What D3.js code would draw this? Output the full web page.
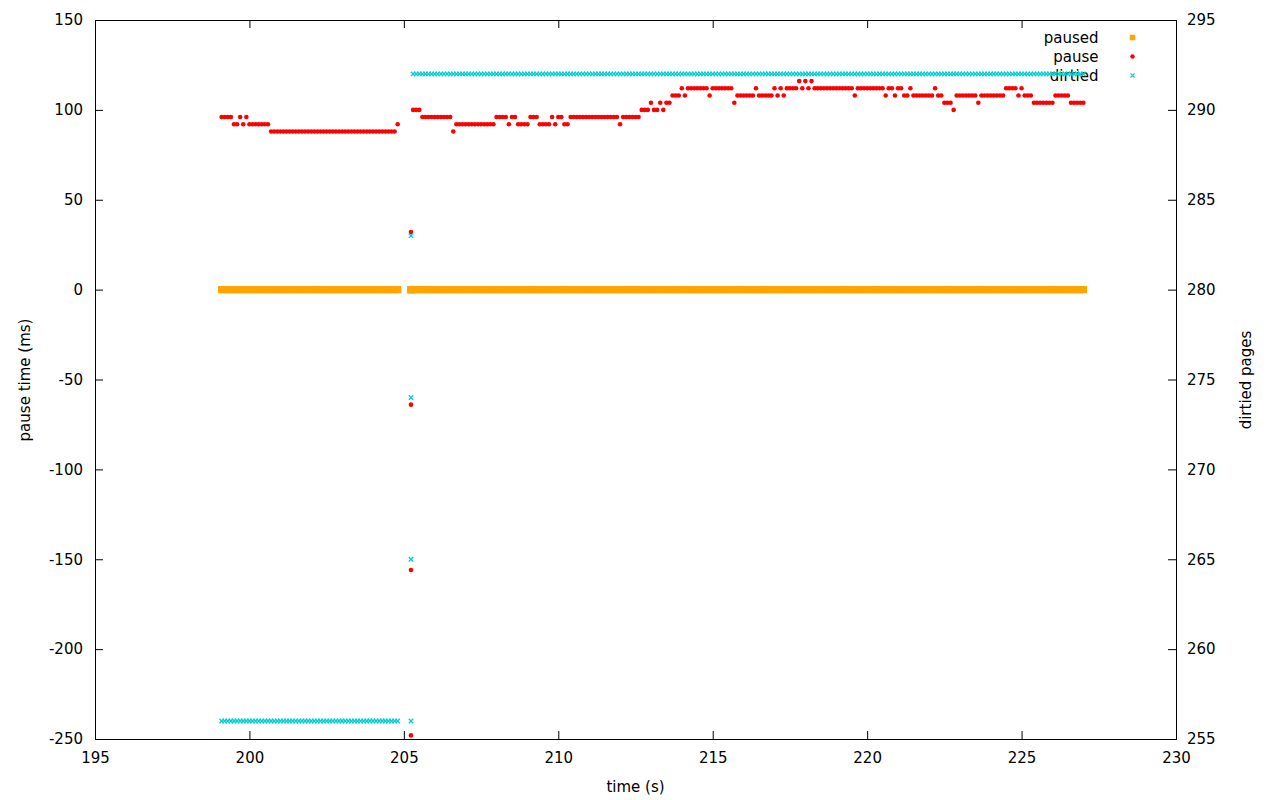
<!DOCTYPE html>
<html><head><meta charset="utf-8">
<script src="https://cdn.jsdelivr.net/npm/d3@7"></script>
<style>
html,body{margin:0;padding:0;background:#fff;}
svg{display:block;}
text{font-family:"DejaVu Sans",sans-serif;font-size:15px;fill:#000;}
</style>
</head><body>
<svg id="chart" width="1280" height="800"></svg>
<script>
// ---------------- data ----------------
const xTicks = [195,200,205,210,215,220,225,230];
const yLeftTicks = [-250,-200,-150,-100,-50,0,50,100,150];
const yRightTicks = [255,260,265,270,275,280,285,290,295];
const seriesNames = ["paused","pause","dirtied"];
const axisTitles = {x:"time (s)", yLeft:"pause time (ms)", yRight:"dirtied pages"};

// segment 1 (before the migration switch)
const times1 = [199.1,199.2,199.3,199.4,199.5,199.6,199.7,199.8,199.9,
200.0,200.1,200.2,200.3,200.4,200.5,200.6,200.7,200.8,200.9,
201.0,201.1,201.2,201.3,201.4,201.5,201.6,201.7,201.8,201.9,
202.0,202.1,202.2,202.3,202.4,202.5,202.6,202.7,202.8,202.9,
203.0,203.1,203.2,203.3,203.4,203.5,203.6,203.7,203.8,203.9,
204.0,204.1,204.2,204.3,204.4,204.5,204.6,204.7,204.8];
const pause1 = [96,96,96,96,92,92,96,92,96,92,
92,92,92,92,92,92,88,88,88,88,
88,88,88,88,88,88,88,88,88,88,
88,88,88,88,88,88,88,88,88,88,
88,88,88,88,88,88,88,88,88,88,
88,88,88,88,88,88,88,92];
const dirtied1 = [256,256,256,256,256,256,256,256,256,256,
256,256,256,256,256,256,256,256,256,256,
256,256,256,256,256,256,256,256,256,256,
256,256,256,256,256,256,256,256,256,256,
256,256,256,256,256,256,256,256,256,256,
256,256,256,256,256,256,256,256];
const paused1 = [0,0,0,0,0,0,0,0,0,0,
0,0,0,0,0,0,0,0,0,0,
0,0,0,0,0,0,0,0,0,0,
0,0,0,0,0,0,0,0,0,0,
0,0,0,0,0,0,0,0,0,0,
0,0,0,0,0,0,0,0];

// transition samples
const timesT = [205.23,205.23,205.23,205.23];
const pauseT = [32,-64,-156,-248];
const dirtiedT = [283,274,265,256];
const pausedT = [0,0,0,0];

// segment 2 (after the switch)
const times2 = [205.3,205.4,205.5,205.6,205.7,205.8,205.9,
206.0,206.1,206.2,206.3,206.4,206.5,206.6,206.7,206.8,206.9,
207.0,207.1,207.2,207.3,207.4,207.5,207.6,207.7,207.8,207.9,
208.0,208.1,208.2,208.3,208.4,208.5,208.6,208.7,208.8,208.9,
209.0,209.1,209.2,209.3,209.4,209.5,209.6,209.7,209.8,209.9,
210.0,210.1,210.2,210.3,210.4,210.5,210.6,210.7,210.8,210.9,
211.0,211.1,211.2,211.3,211.4,211.5,211.6,211.7,211.8,211.9,
212.0,212.1,212.2,212.3,212.4,212.5,212.6,212.7,212.8,212.9,
213.0,213.1,213.2,213.3,213.4,213.5,213.6,213.7,213.8,213.9,
214.0,214.1,214.2,214.3,214.4,214.5,214.6,214.7,214.8,214.9,
215.0,215.1,215.2,215.3,215.4,215.5,215.6,215.7,215.8,215.9,
216.0,216.1,216.2,216.3,216.4,216.5,216.6,216.7,216.8,216.9,
217.0,217.1,217.2,217.3,217.4,217.5,217.6,217.7,217.8,217.9,
218.0,218.1,218.2,218.3,218.4,218.5,218.6,218.7,218.8,218.9,
219.0,219.1,219.2,219.3,219.4,219.5,219.6,219.7,219.8,219.9,
220.0,220.1,220.2,220.3,220.4,220.5,220.6,220.7,220.8,220.9,
221.0,221.1,221.2,221.3,221.4,221.5,221.6,221.7,221.8,221.9,
222.0,222.1,222.2,222.3,222.4,222.5,222.6,222.7,222.8,222.9,
223.0,223.1,223.2,223.3,223.4,223.5,223.6,223.7,223.8,223.9,
224.0,224.1,224.2,224.3,224.4,224.5,224.6,224.7,224.8,224.9,
225.0,225.1,225.2,225.3,225.4,225.5,225.6,225.7,225.8,225.9,
226.0,226.1,226.2,226.3,226.4,226.5,226.6,226.7,226.8,226.9,
227.0];
const pause2 = [100,100,100,96,96,96,96,96,96,96,
96,96,96,88,92,92,92,92,92,92,
92,92,92,92,92,92,92,96,96,96,
96,92,96,96,92,92,92,92,96,96,
96,92,92,92,92,96,92,96,96,92,
92,96,96,96,96,96,96,96,96,96,
96,96,96,96,96,96,96,92,96,96,
96,96,96,96,100,100,100,104,100,100,
104,100,104,104,108,108,108,112,108,112,
112,112,112,112,112,112,108,112,112,112,
112,112,112,112,104,108,108,108,108,108,
108,112,108,108,108,108,108,112,108,112,
108,112,112,112,112,116,112,116,112,116,
112,112,112,112,112,112,112,112,112,112,
112,112,112,108,112,112,112,112,112,112,
112,112,112,108,112,112,108,112,112,108,
108,112,108,108,108,108,108,108,108,112,
108,108,104,104,104,100,108,108,108,108,
108,108,108,104,108,108,108,108,108,108,
108,108,112,112,112,112,108,112,108,108,
108,104,104,104,104,104,104,104,108,108,
108,108,108,104,104,104,104,104];
const dirtied2 = [292,292,292,292,292,292,292,292,292,292,
292,292,292,292,292,292,292,292,292,292,
292,292,292,292,292,292,292,292,292,292,
292,292,292,292,292,292,292,292,292,292,
292,292,292,292,292,292,292,292,292,292,
292,292,292,292,292,292,292,292,292,292,
292,292,292,292,292,292,292,292,292,292,
292,292,292,292,292,292,292,292,292,292,
292,292,292,292,292,292,292,292,292,292,
292,292,292,292,292,292,292,292,292,292,
292,292,292,292,292,292,292,292,292,292,
292,292,292,292,292,292,292,292,292,292,
292,292,292,292,292,292,292,292,292,292,
292,292,292,292,292,292,292,292,292,292,
292,292,292,292,292,292,292,292,292,292,
292,292,292,292,292,292,292,292,292,292,
292,292,292,292,292,292,292,292,292,292,
292,292,292,292,292,292,292,292,292,292,
292,292,292,292,292,292,292,292,292,292,
292,292,292,292,292,292,292,292,292,292,
292,292,292,292,292,292,292,292,292,292,
292,292,292,292,292,292,292,292];
const paused2 = [0,0,0,0,0,0,0,0,0,0,
0,0,0,0,0,0,0,0,0,0,
0,0,0,0,0,0,0,0,0,0,
0,0,0,0,0,0,0,0,0,0,
0,0,0,0,0,0,0,0,0,0,
0,0,0,0,0,0,0,0,0,0,
0,0,0,0,0,0,0,0,0,0,
0,0,0,0,0,0,0,0,0,0,
0,0,0,0,0,0,0,0,0,0,
0,0,0,0,0,0,0,0,0,0,
0,0,0,0,0,0,0,0,0,0,
0,0,0,0,0,0,0,0,0,0,
0,0,0,0,0,0,0,0,0,0,
0,0,0,0,0,0,0,0,0,0,
0,0,0,0,0,0,0,0,0,0,
0,0,0,0,0,0,0,0,0,0,
0,0,0,0,0,0,0,0,0,0,
0,0,0,0,0,0,0,0,0,0,
0,0,0,0,0,0,0,0,0,0,
0,0,0,0,0,0,0,0,0,0,
0,0,0,0,0,0,0,0,0,0,
0,0,0,0,0,0,0,0];

// ---------------- layout / style ----------------
const L = 95, R = 1176, T = 20, B = 739;
const colors = {paused:"#ffa500", pause:"#ff0000", dirtied:"#00ced1"};

const svg = d3.select("#chart");
const x = d3.scaleLinear().domain([195,230]).range([L,R]);
const yL = d3.scaleLinear().domain([-250,150]).range([B,T]);
const yR = d3.scaleLinear().domain([255,295]).range([B,T]);

const zip = (t,v) => t.map((d,i)=>({t:d, v:v[i]}));
const pausedData  = zip(times1,paused1).concat(zip(timesT,pausedT), zip(times2,paused2));
const pauseData   = zip(times1,pause1).concat(zip(timesT,pauseT), zip(times2,pause2));
const dirtiedData = zip(times1,dirtied1).concat(zip(timesT,dirtiedT), zip(times2,dirtied2));

const fmt = d => String(d);   // plain ASCII hyphen for negatives, as in the reference
function clean(g){
  g.select(".domain").remove();
  g.selectAll(".tick line").attr("stroke","#000").attr("stroke-width",1);
  g.attr("font-size",null).attr("font-family",null);
}

// axes
svg.append("g").attr("transform",`translate(0,${B})`)
  .call(d3.axisBottom(x).tickValues(xTicks).tickSize(-8).tickPadding(13).tickFormat(fmt))
  .call(clean);
svg.append("g").attr("transform",`translate(0,${T})`)
  .call(d3.axisTop(x).tickValues(xTicks).tickSize(-8).tickFormat(""))
  .call(clean);
svg.append("g").attr("transform",`translate(${L},0)`)
  .call(d3.axisLeft(yL).tickValues(yLeftTicks).tickSize(-8).tickPadding(12).tickFormat(fmt))
  .call(clean);
svg.append("g").attr("transform",`translate(${R},0)`)
  .call(d3.axisRight(yR).tickValues(yRightTicks).tickSize(-8).tickPadding(11).tickFormat(fmt))
  .call(clean);

// border
svg.append("rect").attr("x",L+0.5).attr("y",T+0.5).attr("width",R-L).attr("height",B-T)
  .attr("fill","none").attr("stroke","#000").attr("stroke-width",1);

// axis titles
svg.append("text").attr("x",(L+R)/2).attr("y",792).attr("text-anchor","middle").text(axisTitles.x);
svg.append("text").attr("transform",`translate(30,380) rotate(-90)`).attr("text-anchor","middle").text(axisTitles.yLeft);
svg.append("text").attr("transform",`translate(1251,380) rotate(-90)`).attr("text-anchor","middle").text(axisTitles.yRight);

// legend
const crossPath = s => `M${-s},${-s}L${s},${s}M${-s},${s}L${s},${-s}`;
const legendY = [37.5, 56.5, 75.5];
const legend = svg.append("g");
seriesNames.forEach((name,i)=>{
  legend.append("text").attr("x",1098.5).attr("y",legendY[i]).attr("dy","0.38em")
    .attr("text-anchor","end").text(name);
});
legend.append("rect").attr("x",1132.5-2.75).attr("y",legendY[0]-2.75).attr("width",5.5).attr("height",5.5).attr("fill",colors.paused);
legend.append("circle").attr("cx",1132.5).attr("cy",legendY[1]).attr("r",2.2).attr("fill",colors.pause);
legend.append("path").attr("transform",`translate(1132.5,${legendY[2]})`).attr("d",crossPath(2.1))
  .attr("stroke",colors.dirtied).attr("stroke-width",1.3).attr("fill","none");

// series: paused (squares)
svg.append("g").selectAll("rect").data(pausedData).join("rect")
  .attr("x",d=>x(d.t)-3.6).attr("y",d=>yL(d.v)-3.6).attr("width",7.2).attr("height",7.2)
  .attr("fill",colors.paused);

// series: pause (dots)
svg.append("g").selectAll("circle").data(pauseData).join("circle")
  .attr("cx",d=>x(d.t)).attr("cy",d=>yL(d.v)).attr("r",2.3)
  .attr("fill",colors.pause);

// series: dirtied (crosses, right axis)
svg.append("g").selectAll("path").data(dirtiedData).join("path")
  .attr("transform",d=>`translate(${x(d.t)},${yR(d.v)})`)
  .attr("d",crossPath(2.2))
  .attr("stroke",colors.dirtied).attr("stroke-width",1.3).attr("fill","none");
</script>
</body></html>
